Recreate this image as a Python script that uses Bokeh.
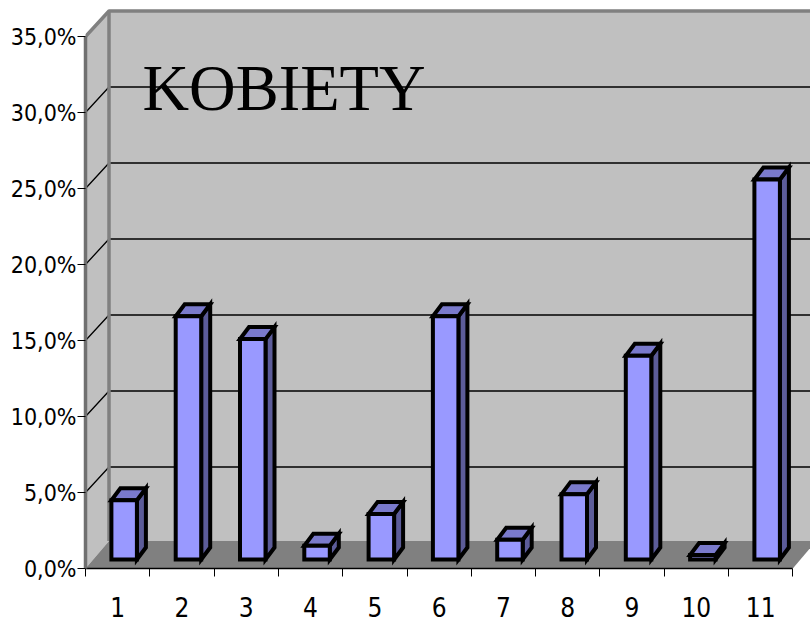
from bokeh.plotting import figure
from bokeh.embed import file_html
from bokeh.resources import INLINE
from bokeh.models import Range1d, LinearAxis, FixedTicker, Label

categories = ["1", "2", "3", "4", "5", "6", "7", "8", "9", "10", "11"]
values = [3.9, 16.0, 14.5, 0.9, 3.0, 16.0, 1.3, 4.3, 13.4, 0.3, 25.0]
y_ticks = [0, 5, 10, 15, 20, 25, 30, 35]
y_labels = ["0,0%", "5,0%", "10,0%", "15,0%", "20,0%", "25,0%", "30,0%", "35,0%"]
title = "KOBIETY"

PX_X = 64.3   # px per category
PX_Y = 15.2   # px per percent point
WALL_X = 23.5 / PX_X
WALL_Y = 25.5 / PX_Y
FLOOR_Y = 27.5 / PX_Y
BAR_SHIFT_X = 6.5 / PX_X
BAR_BASE = 9 / PX_Y
BAR_W = 25.5 / PX_X
BAR_DX = 9 / PX_X
BAR_DY = 12 / PX_Y
n = len(categories)

p = figure(width=810, height=625, output_backend="svg", toolbar_location=None,
           x_range=Range1d(0, 725 / PX_X), y_range=Range1d(0, 568 / PX_Y),
           x_axis_location=None, y_axis_location=None,
           min_border_left=85, min_border_right=0, min_border_top=0, min_border_bottom=57)
p.outline_line_color = None
p.grid.visible = False
p.background_fill_color = "white"

right = n + 1

# walls and floor
p.quad(left=WALL_X, right=right, bottom=FLOOR_Y, top=35 + WALL_Y, fill_color="#C0C0C0", line_color=None)
p.patch([0, WALL_X, WALL_X, 0], [0, FLOOR_Y, 35 + WALL_Y, 35], fill_color="#C0C0C0", line_color=None)
p.patch([0, n, n + WALL_X, WALL_X], [0, 0, FLOOR_Y, FLOOR_Y], fill_color="#808080", line_color=None)

# gridlines
grid = y_ticks[1:-1]
p.multi_line([[0, WALL_X, right] for _ in grid],
             [[v, v + WALL_Y, v + WALL_Y] for v in grid],
             line_color="black", line_width=1.3)

# wall edges
p.line([0, WALL_X, right], [35, 35 + WALL_Y, 35 + WALL_Y], line_color="#808080", line_width=3.5)
p.line([WALL_X, WALL_X], [FLOOR_Y, 35 + WALL_Y], line_color="#808080", line_width=3.5)

# bars
cx = [i + 0.5 + BAR_SHIFT_X for i in range(n)]
L = [c - BAR_W / 2 for c in cx]
R = [c + BAR_W / 2 for c in cx]
B = [BAR_BASE] * n
T = [BAR_BASE + v for v in values]

p.patches([[r, r + BAR_DX, r + BAR_DX, r] for r in R],
          [[b, b + BAR_DY, t + BAR_DY, t] for b, t in zip(B, T)],
          fill_color="#5C5C99", line_color="black", line_width=4, line_join="miter")
p.patches([[l, r, r + BAR_DX, l + BAR_DX] for l, r in zip(L, R)],
          [[t, t, t + BAR_DY, t + BAR_DY] for t in T],
          fill_color="#7A7ACC", line_color="black", line_width=4, line_join="miter")
p.quad(left=L, right=R, bottom=B, top=T, fill_color="#9999FF", line_color="black",
       line_width=4, line_join="miter")

p.add_layout(Label(x=142 - 85, y=625 - 112 - 57 + 24, x_units="screen", y_units="screen", text=title,
                   text_font="Liberation Serif", text_font_size="64.5px", text_color="black",
                   text_baseline="alphabetic"))

font = "DejaVu Sans Condensed"
ya = LinearAxis(ticker=FixedTicker(ticks=y_ticks), bounds=(0, 35))
ya.major_label_overrides = dict(zip(y_ticks, y_labels))
ya.major_label_text_font = font
ya.major_label_text_font_size = "23px"
ya.major_label_text_color = "black"
ya.major_label_standoff = 1
ya.major_tick_out = 8
ya.major_tick_in = 0
ya.major_tick_line_color = "black"
ya.major_tick_line_width = 1
ya.minor_tick_line_color = None
ya.axis_line_color = "#707070"
ya.axis_line_width = 3.5
p.add_layout(ya, "left")

xa = LinearAxis(ticker=FixedTicker(ticks=[i + 0.5 for i in range(n)],
                                   minor_ticks=list(range(n + 1))), bounds=(0, n))
xa.major_label_overrides = {i + 0.5: c for i, c in enumerate(categories)}
xa.major_label_text_font = font
xa.major_label_text_font_size = "26px"
xa.major_label_text_color = "black"
xa.major_label_standoff = 20
xa.major_tick_line_color = None
xa.major_tick_out = 8
xa.minor_tick_out = 8
xa.minor_tick_in = 0
xa.minor_tick_line_color = "black"
xa.minor_tick_line_width = 1
xa.axis_line_color = "black"
xa.axis_line_width = 1.5
p.add_layout(xa, "below")

open("out.html", "w").write(file_html(p, INLINE))
